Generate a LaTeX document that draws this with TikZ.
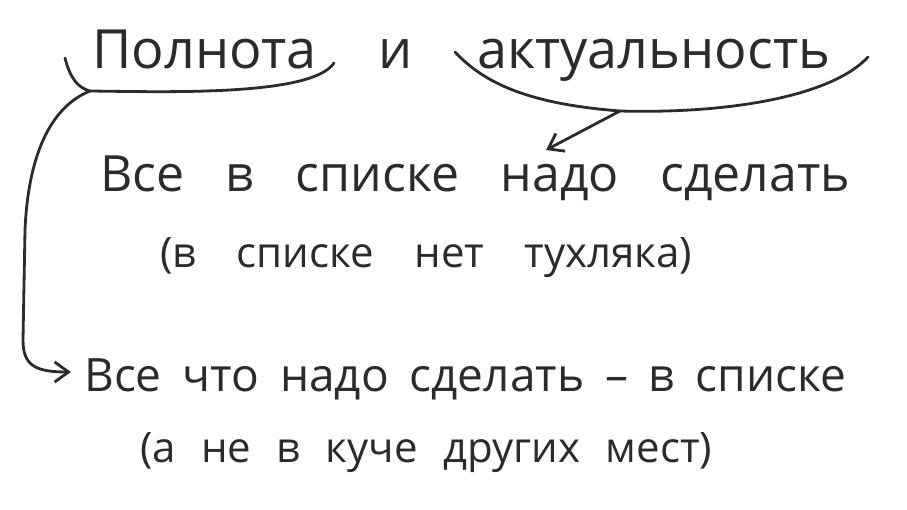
\documentclass[tikz,border=0pt]{standalone}
\usepackage{fontspec}
\setmainfont{Open Sans}
\usetikzlibrary{arrows.meta}
\definecolor{ink}{HTML}{2B2B2B}

\begin{document}
\begin{tikzpicture}[x=1pt, y=-1pt, >={Straight Barb[length=14pt, width=20pt]},
  every node/.style={inner sep=0pt, text=ink},
  title/.style={font=\fontsize{54}{60}\selectfont, anchor=base west},
  bigline/.style={font=\fontsize{50}{58}\selectfont, anchor=base west},
  smallline/.style={font=\fontsize{42}{50}\selectfont, anchor=base west},
  brace/.style={draw=ink, line width=2.8pt, line cap=round, line join=round}]
  \useasboundingbox (0,0) rectangle (907,510);

  % Title with the two braces
  \node[title] (polnota) at (92,69) {Полнота};
  \node[title] (conj) at (378,69) {и};
  \node[title] (aktual) at (477,69) {актуальность};
  \coordinate (poljoin) at (90,91);
  \coordinate (aktjoin) at (620,111);
  \draw[brace] (65,58) .. controls (70,78) and (78,88) .. (poljoin)
    .. controls (170,92) and (312,96) .. (334,63);
  \draw[brace] (455,52) .. controls (485,84) and (530,104) .. (aktjoin)
    .. controls (730,114) and (832,96) .. (868,57);

  % The two statements
  \node[bigline] (line1) at (100,192) {\makebox[750pt][s]{Все в списке надо сделать}};
  \node[smallline] (line2) at (160,268) {\makebox[532pt][s]{(в списке нет тухляка)}};
  \node[bigline, font=\fontsize{46}{54}\selectfont] (line3) at (84,391)
    {\makebox[762pt][s]{Все что надо сделать – в списке}};
  \node[smallline] (line4) at (140,462) {\makebox[572pt][s]{(а не в куче других мест)}};

  % Arrows from the braces
  \coordinate (nadotip) at (546,150);
  \coordinate (vsetip) at (71,372);
  \draw[brace, ->] (aktjoin) -- (nadotip);
  \draw[brace, ->] (poljoin) .. controls (48,108) and (28,160) .. (25,230)
    -- (23,340) .. controls (23,366) and (36,372) .. (vsetip);
\end{tikzpicture}
\end{document}
